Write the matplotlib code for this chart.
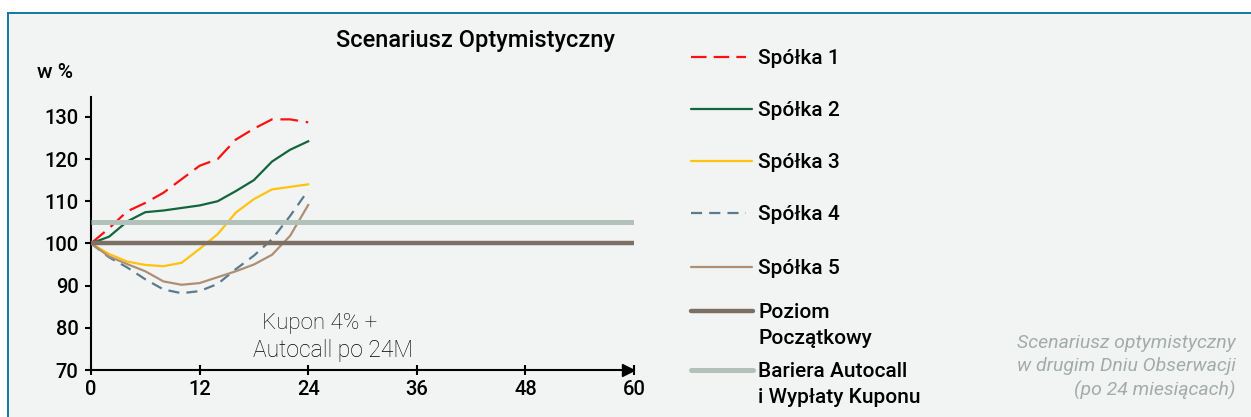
import matplotlib.pyplot as plt
from matplotlib.lines import Line2D
from matplotlib.patches import Rectangle

# months (observation every 2 months up to 24M)
months = [0, 2, 4, 6, 8, 10, 12, 14, 16, 18, 20, 22, 24]

spolka1 = [100, 103.6, 107.6, 109.6, 112.0, 115.2, 118.4, 120.0, 124.6, 127.2, 129.4, 129.4, 128.7]
spolka2 = [100, 101.6, 105.2, 107.4, 107.8, 108.4, 109.0, 110.0, 112.4, 115.0, 119.4, 122.2, 124.2]
spolka3 = [100, 97.5, 95.7, 94.9, 94.6, 95.4, 98.7, 102.2, 107.3, 110.5, 112.8, 113.4, 114.0]
spolka4 = [100, 96.7, 94.3, 91.5, 89.1, 88.2, 88.7, 90.4, 93.9, 97.1, 101.0, 106.5, 112.6]
spolka5 = [100, 96.9, 95.1, 93.4, 91.0, 90.2, 90.6, 92.0, 93.4, 95.0, 97.3, 101.8, 109.1]

poziom = 100
bariera = 105

x_ticks = [0, 12, 24, 36, 48, 60]
y_ticks = [70, 80, 90, 100, 110, 120, 130]

labels = ["Spółka 1", "Spółka 2", "Spółka 3", "Spółka 4", "Spółka 5",
          "Poziom\nPoczątkowy", "Bariera Autocall\ni Wypłaty Kuponu"]

plt.rcParams['font.family'] = ['Roboto', 'DejaVu Sans']

c_red = '#ff1010'
c_green = '#13653c'
c_yellow = '#ffc20e'
c_blue = '#5a7a8e'
c_tan = '#ad8f76'
c_poziom = '#7c7064'
c_bariera = '#b2c1ba'

W, H = 1251, 417
fig = plt.figure(figsize=(W / 100, H / 100), dpi=100)
fig.patch.set_facecolor('white')

# background panel with blue top/left border
fig.patches.append(Rectangle((8 / W, 0), 1, 1 - 13 / H, transform=fig.transFigure,
                             facecolor='#f2f4f3', edgecolor='none', zorder=-5))
fig.add_artist(Line2D([8 / W, 1], [1 - 13 / H, 1 - 13 / H], transform=fig.transFigure,
                      color='#1577a0', lw=1.4, zorder=-4))
fig.add_artist(Line2D([8 / W, 8 / W], [0, 1 - 13 / H], transform=fig.transFigure,
                      color='#1577a0', lw=1.4, zorder=-4))

ax = fig.add_axes([91 / W, 1 - 370 / H, (634 - 91) / W, (370 - 97) / H])
ax.set_facecolor('none')

ax.plot(months, spolka1, color=c_red, lw=1.6, dashes=(8, 3.5), zorder=3)
ax.plot(months, spolka2, color=c_green, lw=1.6, zorder=3)
ax.plot(months, spolka3, color=c_yellow, lw=1.6, zorder=3)
ax.plot(months, spolka4, color=c_blue, lw=1.6, dashes=(5, 3.2), zorder=3)
ax.plot(months, spolka5, color=c_tan, lw=1.6, zorder=3)
ax.plot([0, 60], [poziom, poziom], color=c_poziom, lw=3.2, zorder=4, solid_capstyle='butt')
ax.plot([0, 60], [bariera, bariera], color=c_bariera, lw=3.6, zorder=4, solid_capstyle='butt')

ax.set_xlim(0, 60)
ax.set_ylim(70, 134.7)
ax.set_xticks(x_ticks)
ax.set_yticks(y_ticks)
ax.tick_params(axis='x', direction='inout', length=7, width=1.5, labelsize=14.5, pad=4)
ax.tick_params(axis='y', direction='out', length=4, width=1.5, labelsize=14.5, pad=5)
for lbl in ax.get_xticklabels() + ax.get_yticklabels():
    lbl.set_fontweight('medium')
for s in ['top', 'right']:
    ax.spines[s].set_visible(False)
for s in ['left', 'bottom']:
    ax.spines[s].set_linewidth(1.5)
ax.plot(59.3, 70, marker='>', ms=9, color='black', clip_on=False, zorder=5)

fig.text(475 / W, 1 - 41 / H, "Scenariusz Optymistyczny", ha='center', va='center',
         fontsize=17, fontweight='medium')
fig.text(55 / W, 1 - 73 / H, "w %", ha='center', va='center', fontsize=15, fontweight='medium')

fig.text(262 / W, 1 - 323 / H, "Kupon 4% +", ha='left', va='center', fontsize=16,
         fontweight='light', color='#000000')
fig.text(253 / W, 1 - 351 / H, "Autocall po 24M", ha='left', va='center', fontsize=16.5,
         fontweight='light', color='#000000')

# legend drawn by hand so that the handle sits on the first text line
handles = [
    dict(color=c_red, lw=1.6, dashes=(7, 3.2), x1=746),
    dict(color=c_green, lw=1.6, x1=752),
    dict(color=c_yellow, lw=1.6, x1=752),
    dict(color=c_blue, lw=1.6, dashes=(5, 3.2), x1=746),
    dict(color=c_tan, lw=1.6, x1=752),
    dict(color=c_poziom, lw=3.2, x1=753),
    dict(color=c_bariera, lw=3.6, x1=753),
]
rows = [57, 109, 161, 213, 267, 311, 370]
for h, lab, yy in zip(handles, labels, rows):
    kw = dict(color=h['color'], lw=h['lw'], solid_capstyle='round')
    if 'dashes' in h:
        kw['dashes'] = h['dashes']
        kw['solid_capstyle'] = 'butt'
    fig.add_artist(Line2D([691 / W, h['x1'] / W], [1 - yy / H, 1 - yy / H],
                          transform=fig.transFigure, **kw))
    fig.text(758 / W, 1 - (yy - 8) / H, lab, ha='left', va='top', fontsize=15,
             fontweight='medium', linespacing=1.45)

fig.text(1236 / W, 1 - 367 / H,
         "Scenariusz optymistyczny\nw drugim Dniu Obserwacji\n(po 24 miesiącach)",
         ha='right', va='center', fontsize=14, style='italic', color='#a3aca8',
         fontweight='normal', linespacing=1.4)

fig.savefig("out.png", dpi=100)
